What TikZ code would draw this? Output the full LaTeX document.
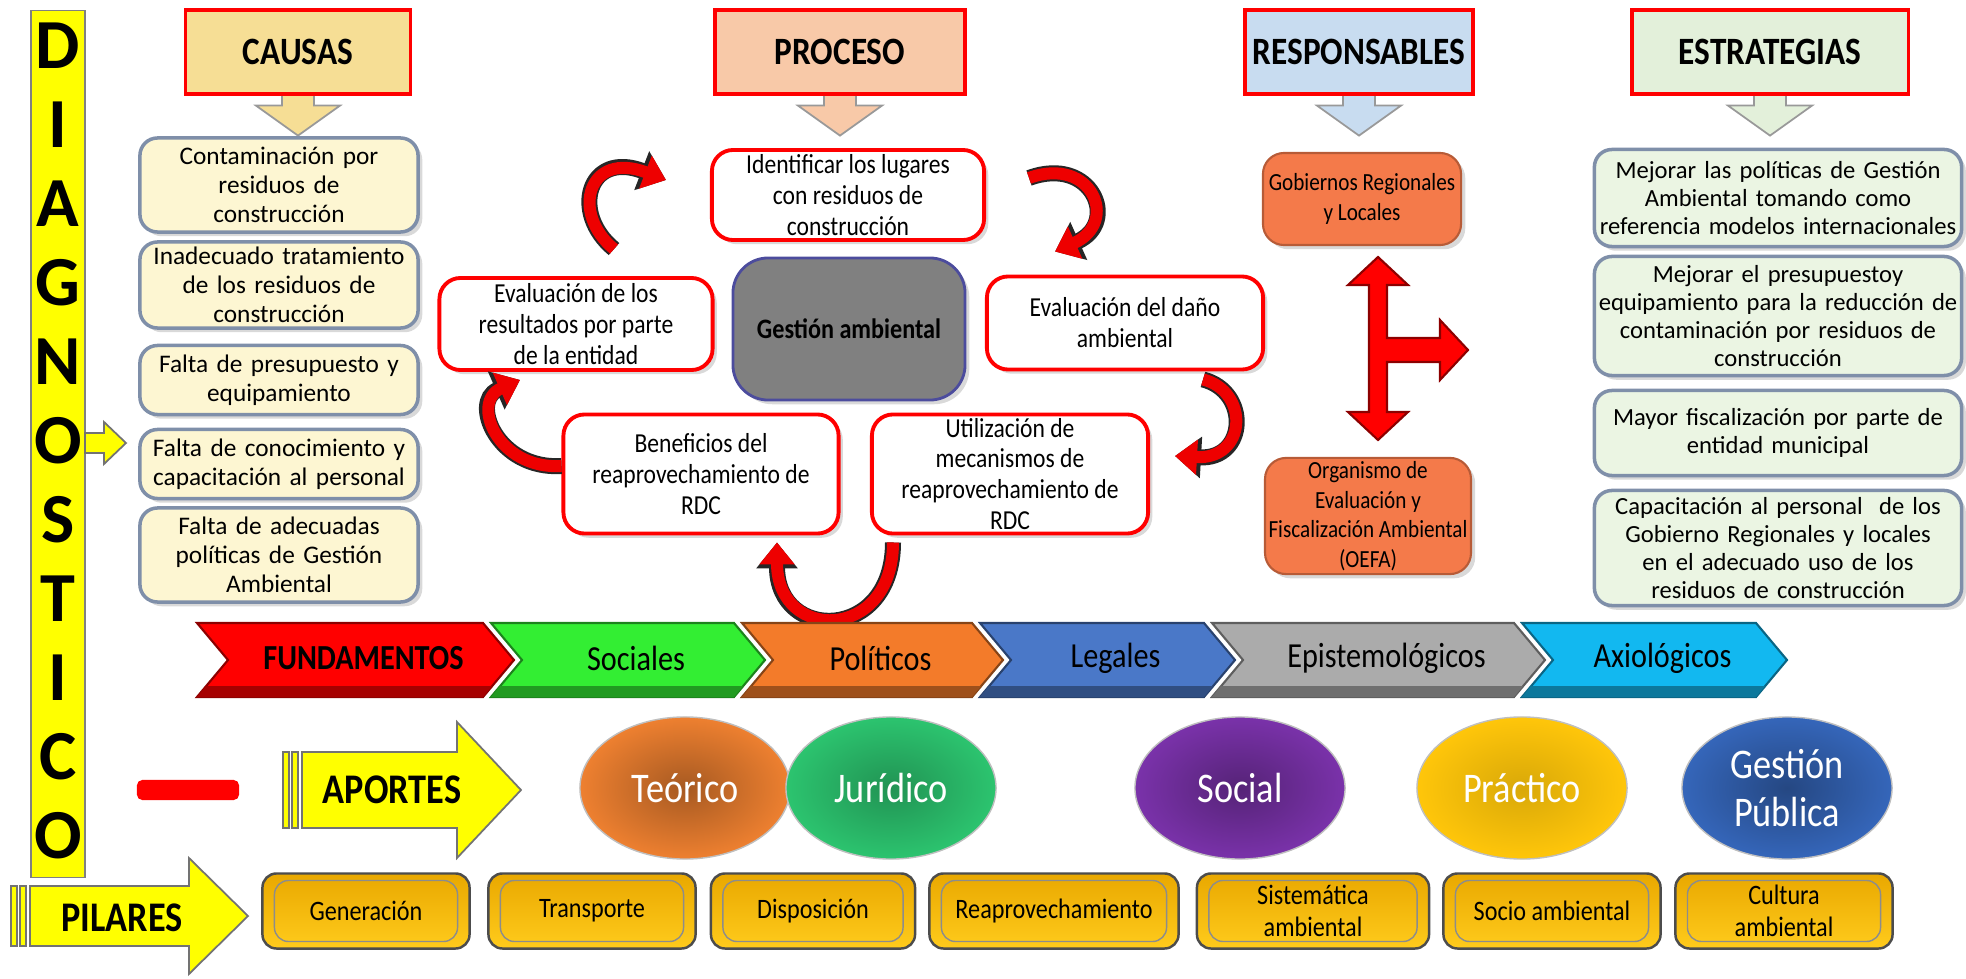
\documentclass[tikz,border=0pt]{standalone}
\usepackage{fontspec}
\setmainfont{Carlito}
\newfontfamily\narrowfont[FakeStretch=0.86]{Carlito}
\usetikzlibrary{arrows.meta,positioning,calc,shapes.geometric,backgrounds,shadows}
\definecolor{diagyellow}{HTML}{FFFF00}
\definecolor{causahead}{HTML}{F6DE95}
\definecolor{procesohead}{HTML}{F8C9A8}
\definecolor{resphead}{HTML}{C8DCF0}
\definecolor{estrahead}{HTML}{E3F0DA}
\definecolor{causafill}{HTML}{FDF6D2}
\definecolor{estrafill}{HTML}{EBF5E3}
\definecolor{slateline}{HTML}{7F8FA9}
\definecolor{coral}{HTML}{F47A4A}
\definecolor{centergray}{HTML}{808080}
\definecolor{ribbonred}{HTML}{EE0000}
\definecolor{fundred}{HTML}{FF0000}
\definecolor{fundgreen}{HTML}{33EE33}
\definecolor{fundorange}{HTML}{F37B2A}
\definecolor{fundblue}{HTML}{4A78C8}
\definecolor{fundgray}{HTML}{ABABAB}
\definecolor{fundcyan}{HTML}{12B8F0}
\definecolor{apteorico}{HTML}{EE8030}
\definecolor{apjuridico}{HTML}{2CC46F}
\definecolor{apsocial}{HTML}{7A32AA}
\definecolor{appractico}{HTML}{FFC60A}
\definecolor{apgestion}{HTML}{3566BA}
\definecolor{pilartop}{HTML}{E9A800}
\definecolor{pilarbottom}{HTML}{FFCB1C}
\tikzset{
  softshadow/.style={drop shadow={opacity=0.3,shadow xshift=1.2pt,shadow yshift=-1.2pt}},
  headbox/.style={draw=red,line width=0.9pt,minimum height=0.84cm,inner sep=2pt,
    font=\narrowfont\bfseries\fontsize{11}{13}\selectfont},
  headarrow/.style={draw=black!40,line width=0.5pt},
  pics/downtip/.style={code={
    \filldraw[pic actions] (-16,-12) -- (-16,10) -- (-42,10) -- (0,40)
      -- (42,10) -- (16,10) -- (16,-12) -- cycle;}},
  causebox/.style={draw=slateline,fill=causafill,rounded corners=5pt,line width=1pt,
    align=center,minimum width=2.78cm,text width=2.7cm,inner sep=1pt,softshadow,
    font=\fontsize{7.2}{8.2}\selectfont},
  stratbox/.style={causebox,fill=estrafill,minimum width=3.67cm,text width=3.6cm,
    font=\fontsize{7}{8}\selectfont},
  stepbox/.style={draw=red,fill=white,rounded corners=6pt,line width=1.1pt,align=center,
    inner sep=1pt,softshadow,font=\narrowfont\fontsize{7.8}{8.8}\selectfont},
  coralbox/.style={fill=coral,draw=coral!75!black,rounded corners=6pt,line width=0.6pt,
    align=center,minimum width=1.98cm,inner sep=1pt,softshadow,
    font=\narrowfont\fontsize{7}{8.4}\selectfont},
  cycleflow/.style={-{Triangle[width=0.34cm,length=0.22cm]},line width=0.12cm,
    draw=ribbonred,preaction={draw=black!85,line width=0.16cm,
    -{Triangle[width=0.4cm,length=0.26cm]}}},
  chevlabel/.style={font=\narrowfont\fontsize{10}{12}\selectfont},
  aporte/.style={ellipse,minimum width=2.1cm,minimum height=1.42cm,text=white,
    draw=black!25,align=center,font=\narrowfont\fontsize{12}{13.5}\selectfont},
  pilarbox/.style={top color=pilartop,bottom color=pilarbottom,draw=black!70,
    rounded corners=4pt,line width=0.7pt,minimum height=0.75cm,align=center,
    inner sep=1pt,font=\narrowfont\fontsize{8}{9}\selectfont,
    path picture={\draw[black!45,line width=0.4pt]
      ($(path picture bounding box.south west)+(12,-7)$) rectangle
      ($(path picture bounding box.north east)+(-12,7)$);}},
  yellowarrow/.style={fill=diagyellow,draw=black!55,line width=0.5pt},
  diagletter/.style={font=\bfseries\fontsize{20}{20}\selectfont,inner sep=0pt}
}
\begin{document}
\begin{tikzpicture}[x=0.01cm,y=-0.01cm]
\useasboundingbox (0,0) rectangle (1966,979);

% DIAGNOSTICO bar
\node[draw=black!50,fill=diagyellow,minimum width=0.54cm,minimum height=8.66cm,
  inner sep=0pt] (diagbar) at (58,444) {};
\foreach \ch [count=\k from 0] in {D,I,A,G,N,O,S,T,I,C,O}
  \node[diagletter] (diag\k) at (58,{46+79*\k}) {\ch};
\filldraw[yellowarrow] (85,433) -- (104,433) -- (104,422) -- (126,443)
  -- (104,464) -- (104,453) -- (85,453) -- cycle;

% column headers
\node[headbox,fill=causahead,minimum width=2.25cm] (causas) at (298,52) {CAUSAS};
\node[headbox,fill=procesohead,minimum width=2.5cm] (proceso) at (840,52) {PROCESO};
\node[headbox,fill=resphead,minimum width=2.28cm] (respons) at (1359,52) {RESPONSABLES};
\node[headbox,fill=estrahead,minimum width=2.76cm] (estrat) at (1770,52) {ESTRATEGIAS};
\begin{scope}[on background layer]
\pic[headarrow,fill=causahead] at (causas.south) {downtip};
\pic[headarrow,fill=procesohead] at (proceso.south) {downtip};
\pic[headarrow,fill=resphead] at (respons.south) {downtip};
\pic[headarrow,fill=estrahead] at (estrat.south) {downtip};
\end{scope}

% causes
\node[causebox,minimum height=0.94cm] (causa1) at (279,185)
  {Contaminación por\\residuos de\\construcción};
\node[causebox,minimum height=0.86cm] (causa2) at (279,285)
  {Inadecuado tratamiento\\de los residuos de\\construcción};
\node[causebox,minimum height=0.69cm] (causa3) at (279,380)
  {Falta de presupuesto y\\equipamiento};
\node[causebox,minimum height=0.69cm] (causa4) at (279,464)
  {Falta de conocimiento y\\capacitación al personal};
\node[causebox,minimum height=0.94cm] (causa5) at (279,555)
  {Falta de adecuadas\\políticas de Gestión\\Ambiental};

% process cycle
\node[stepbox,minimum width=2.72cm,minimum height=0.9cm] (identificar) at (848,195)
  {Identificar los lugares\\con residuos de\\construcción};
\node[draw=black!55!blue!70,fill=centergray,rounded corners=10pt,line width=0.8pt,
  minimum width=2.32cm,minimum height=1.42cm,softshadow,
  font=\narrowfont\bfseries\fontsize{8}{9}\selectfont] (gestion) at (849,329)
  {Gestión ambiental};
\node[stepbox,minimum width=2.73cm,minimum height=0.92cm] (evresult) at (576,324)
  {Evaluación de los\\resultados por parte\\de la entidad};
\node[stepbox,minimum width=2.76cm,minimum height=0.93cm] (evdano) at (1125,323)
  {Evaluación del daño\\ambiental};
\node[stepbox,minimum width=2.75cm,minimum height=1.19cm] (beneficio) at (701,474)
  {Beneficios del\\reaprovechamiento de\\RDC};
\node[stepbox,minimum width=2.76cm,minimum height=1.19cm] (utilizacion) at (1010,474)
  {Utilización de\\mecanismos de\\reaprovechamiento de\\RDC};

\coordinate (a1s) at ($(evresult.north)+(38,-27)$);
\coordinate (a1e) at ($(identificar.west)+(-44,-15)$);
\coordinate (a2s) at ($(identificar.east)+(43,-17)$);
\coordinate (a2e) at ($(evdano.north)+(-70,-23)$);
\coordinate (a3s) at ($(evdano.south)+(78,8)$);
\coordinate (a3e) at ($(utilizacion.east)+(25,-18)$);
\coordinate (a4s) at ($(utilizacion.south)+(-117,7)$);
\coordinate (a4e) at ($(beneficio.south)+(76,7)$);
\coordinate (a5s) at ($(beneficio.west)+(0,-8)$);
\coordinate (a5e) at ($(evresult.south)+(-56,8)$);
\draw[cycleflow] (a1s) .. controls ($(a1s)+(-44,-36)$) and ($(a1e)+(-78,-30)$) .. (a1e);
\draw[cycleflow] (a2s) .. controls ($(a2s)+(63,-23)$) and ($(a2e)+(65,-29)$) .. (a2e);
\draw[cycleflow] (a3s) .. controls ($(a3s)+(47,12)$) and ($(a3e)+(72,4)$) .. (a3e);
\draw[cycleflow] (a4s) .. controls ($(a4s)+(0,100)$) and ($(a4e)+(0,100)$) .. (a4e);
\draw[cycleflow] (a5s) .. controls ($(a5s)+(-64,4)$) and ($(a5e)+(-50,22)$) .. (a5e);

% responsible bodies
\node[coralbox,minimum height=0.92cm] (gobiernos) at (1362,199)
  {Gobiernos Regionales\\y Locales};
\node[coralbox,minimum height=1.1cm] (oefa) at (1368,516)
  {Organismo de\\Evaluación y\\Fiscalización Ambiental\\(OEFA)};
\filldraw[fill=red,draw=red!55!black,line width=0.6pt]
  (1378,257) -- (1408,285) -- (1387,285) -- (1387,338) -- (1440,338) -- (1440,320)
  -- (1468,350) -- (1440,380) -- (1440,362) -- (1387,362) -- (1387,412) -- (1408,412)
  -- (1378,440) -- (1348,412) -- (1369,412) -- (1369,285) -- (1348,285) -- cycle;

% strategies
\node[stratbox,minimum height=0.97cm] (estra1) at (1778,198)
  {Mejorar las políticas de Gestión\\Ambiental tomando como\\referencia modelos internacionales};
\node[stratbox,minimum height=1.19cm] (estra2) at (1778,316)
  {Mejorar el presupuestoy\\equipamiento para la reducción de\\contaminación por residuos de\\construcción};
\node[stratbox,minimum height=0.85cm] (estra3) at (1778,433)
  {Mayor fiscalización por parte de\\entidad municipal};
\node[stratbox,minimum height=1.15cm] (estra4) at (1778,548)
  {Capacitación al personal\ \ de los\\Gobierno Regionales y locales\\en el adecuado uso de los\\residuos de construcción};

% fundamentos band
\foreach \a/\b/\col/\txt/\nm in {197/514/fundred/{\bfseries FUNDAMENTOS}/fund,
    491/765/fundgreen/Sociales/soc, 742/1003/fundorange/Políticos/pol,
    980/1235/fundblue/Legales/leg, 1212/1545/fundgray/Epistemológicos/epi,
    1522/1787/fundcyan/Axiológicos/axi}{
  \filldraw[fill=\col,draw=\col!55!black,line width=0.6pt]
    (\a,623) -- ({\b-31},623) -- (\b,660) -- ({\b-31},697) -- (\a,697)
    -- ({\a+31},660) -- cycle;
  \fill[\col!65!black] (\a,697) -- ({\b-31},697) -- ({\b-22},686) -- ({\a+9},686) -- cycle;
  \node[chevlabel] (chev\nm) at ({(\a+\b)/2+8},658) {\txt};
}

% aportes row
\node[fill=red,rounded corners=1.5pt,minimum width=1.02cm,minimum height=0.2cm,
  inner sep=0pt] (rdash) at (188,790) {};
\filldraw[yellowarrow] (283,752) rectangle (289,828);
\filldraw[yellowarrow] (292,752) rectangle (298,828);
\filldraw[yellowarrow] (302,752) -- (457,752) -- (457,722) -- (521,790) -- (457,858)
  -- (457,828) -- (302,828) -- cycle;
\node[font=\narrowfont\bfseries\fontsize{12}{14}\selectfont] (aportes) at (392,790) {APORTES};
\node[aporte,inner color=apteorico!70!black,outer color=apteorico] (teorico) at (685,788) {Teórico};
\node[aporte,inner color=apjuridico!75!black,outer color=apjuridico] (juridico) at (891,788) {Jurídico};
\node[aporte,inner color=apsocial!70!black,outer color=apsocial] (social) at (1240,788) {Social};
\node[aporte,inner color=appractico!85!black,outer color=appractico] (practico) at (1522,788) {Práctico};
\node[aporte,inner color=apgestion!70!black,outer color=apgestion] (gpublica) at (1787,788) {Gestión\\Pública};

% pilares row
\filldraw[yellowarrow] (11,886) rectangle (17,946);
\filldraw[yellowarrow] (20,886) rectangle (26,946);
\filldraw[yellowarrow] (30,886) -- (189,886) -- (189,858) -- (248,916) -- (189,974)
  -- (189,946) -- (30,946) -- cycle;
\node[font=\narrowfont\bfseries\fontsize{12}{14}\selectfont] (pilares) at (122,918) {PILARES};
\node[pilarbox,minimum width=2.07cm] (generacion) at (366,911) {Generación};
\node[pilarbox,minimum width=2.07cm] (transporte) at (592,911) {Transporte};
\node[pilarbox,minimum width=2.04cm] (disposicion) at (813,911) {Disposición};
\node[pilarbox,minimum width=2.49cm] (reaprov) at (1054,911) {Reaprovechamiento};
\node[pilarbox,minimum width=2.32cm] (sistematica) at (1313,911) {Sistemática\\ambiental};
\node[pilarbox,minimum width=2.17cm] (socioamb) at (1552,911) {Socio ambiental};
\node[pilarbox,minimum width=2.17cm] (cultura) at (1784,911) {Cultura\\ambiental};
\end{tikzpicture}
\end{document}
